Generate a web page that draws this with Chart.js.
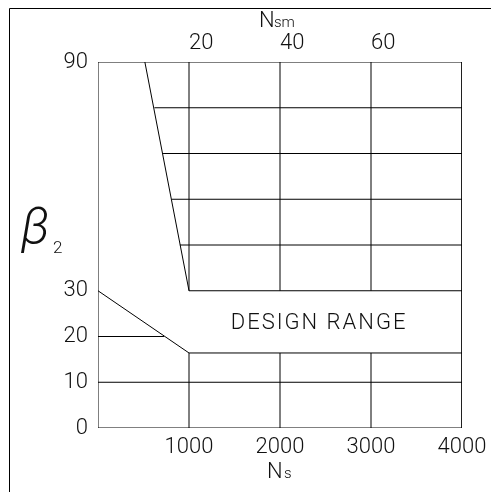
<!DOCTYPE html>
<html>
<head>
<meta charset="utf-8">
<script src="https://cdn.jsdelivr.net/npm/chart.js@4/dist/chart.umd.min.js"></script>
<style>
  html, body { margin: 0; background: #fff; }
</style>
</head>
<body>
<canvas id="chart" width="491" height="492"></canvas>
<script>
// axis ticks
const nsTicks = [1000, 2000, 3000, 4000];
const nsmTicks = [20, 40, 60];
const betaTicks = [0, 10, 20, 30, 90];

// chart outline (Ns, beta2)
const nsRange = [0, 4000];
const betaRange = [0, 90];
const upperEdge = [[515, 90], [1000, 30], [4000, 30]];
const lowerEdge = [[0, 30], [1000, 16.4], [4000, 16.4]];

// grid lines
const gridNs = [1000, 2000, 3000];
const upperBeta = [42, 54, 66, 78];
const upperStartNs = [900, 810, 715, 620];
const lowerBeta = [10, 20];
const lowerEndNs = [4000, 725];

// beta axis is drawn in two parts: 0-30 (10 per cell) and 30-90 (12 per cell)
function unit(b) {
  return b <= 30 ? b / 10 : 3 + (b - 30) / 12;
}
const pt = (x, b) => ({ x: x, y: b === null ? null : unit(b) });

let box = [
  pt(nsRange[0], betaRange[0]), pt(nsRange[0], betaRange[1]),
  pt(nsRange[1], betaRange[1]), pt(nsRange[1], betaRange[0]),
  pt(nsRange[0], betaRange[0])
];

let verticals = [];
gridNs.forEach(ns => {
  verticals.push(pt(ns, 30), pt(ns, 90), pt(ns, null));
  verticals.push(pt(ns, 0), pt(ns, 16.4), pt(ns, null));
});

let horizontals = [];
upperBeta.forEach((b, i) => {
  horizontals.push(pt(upperStartNs[i], b), pt(4000, b), pt(4000, null));
});
lowerBeta.forEach((b, i) => {
  horizontals.push(pt(0, b), pt(lowerEndNs[i], b), pt(lowerEndNs[i], null));
});

const lineSet = (data) => ({
  data: data,
  showLine: true,
  spanGaps: false,
  borderColor: "#000",
  borderWidth: 1,
  pointRadius: 0,
  tension: 0,
});

const FONT = "Roboto";
const tickFont = { family: FONT, size: 22, weight: "300" };

let decor = {
  id: "decor",
  beforeDraw(chart) {
    let ctx = chart.ctx;
    ctx.save();
    ctx.fillStyle = "#fff";
    ctx.fillRect(0, 0, chart.width, chart.height);
    ctx.strokeStyle = "#000";
    ctx.lineWidth = 1;
    ctx.beginPath();
    ctx.moveTo(9.5, chart.height);
    ctx.lineTo(9.5, 8.5);
    ctx.lineTo(chart.width, 8.5);
    ctx.stroke();
    ctx.restore();
  },
  afterDraw(chart) {
    let ctx = chart.ctx;
    let x = chart.scales.x;
    let y = chart.scales.y;
    ctx.save();
    ctx.fillStyle = "#111";
    ctx.textBaseline = "alphabetic";

    // DESIGN RANGE
    ctx.font = `300 22px ${FONT}`;
    ctx.letterSpacing = "2px";
    ctx.textAlign = "center";
    ctx.fillText("DESIGN RANGE", x.getPixelForValue(2430), y.getPixelForValue(unit(23.3)) + 8);
    ctx.letterSpacing = "0px";

    // axis titles
    ctx.textAlign = "left";
    ctx.font = `300 22px ${FONT}`;
    ctx.fillText("N", 259, 27);
    ctx.font = `300 15px ${FONT}`;
    ctx.fillText("sm", 274, 27);

    ctx.font = `300 22px ${FONT}`;
    ctx.fillText("N", 267, 478);
    ctx.font = `300 15px ${FONT}`;
    ctx.fillText("s", 284, 478);

    ctx.font = `italic 300 50px ${FONT}`;
    ctx.fillText("β", 21, 243);
    ctx.font = `300 17px ${FONT}`;
    ctx.fillText("2", 53, 253);
    ctx.restore();
  }
};

new Chart(document.getElementById("chart").getContext("2d"), {
  type: "scatter",
  data: {
    datasets: [
      lineSet(box),
      lineSet(upperEdge.map(p => pt(p[0], p[1]))),
      lineSet(lowerEdge.map(p => pt(p[0], p[1]))),
      lineSet(verticals),
      lineSet(horizontals),
    ]
  },
  options: {
    responsive: false,
    animation: false,
    layout: { padding: { left: 0, top: 0, right: 29, bottom: 0 } },
    plugins: {
      legend: { display: false },
      tooltip: { enabled: false },
    },
    scales: {
      x: {
        type: "linear",
        position: "bottom",
        min: nsRange[0],
        max: nsRange[1],
        grid: { display: false, drawTicks: false },
        border: { display: false },
        afterBuildTicks: s => { s.ticks = nsTicks.map(v => ({ value: v })); },
        afterFit: s => { s.height = 64; s.paddingLeft = 0; s.paddingRight = 0; },
        ticks: {
          color: "#111",
          padding: 6,
          maxRotation: 0,
          font: tickFont,
          callback: v => String(v),
        },
      },
      x2: {
        type: "linear",
        position: "top",
        min: nsRange[0] / 50,
        max: nsRange[1] / 50,
        grid: { display: false, drawTicks: false },
        border: { display: false },
        afterBuildTicks: s => { s.ticks = nsmTicks.map(v => ({ value: v })); },
        afterFit: s => { s.height = 62; s.paddingLeft = 0; s.paddingRight = 0; },
        ticks: {
          color: "#111",
          padding: 5,
          align: "start",
          maxRotation: 0,
          font: tickFont,
          callback: v => String(v),
        },
      },
      y: {
        type: "linear",
        min: unit(betaRange[0]),
        max: unit(betaRange[1]),
        grid: { display: false, drawTicks: false },
        border: { display: false },
        afterBuildTicks: s => { s.ticks = betaTicks.map(v => ({ value: unit(v) })); },
        afterFit: s => { s.width = 98; s.paddingTop = 0; s.paddingBottom = 0; },
        ticks: {
          color: "#111",
          padding: 10,
          font: tickFont,
          callback: (v) => betaTicks.find(b => Math.abs(unit(b) - v) < 1e-6),
        },
      },
    }
  },
  plugins: [decor],
});
</script>
</body>
</html>
